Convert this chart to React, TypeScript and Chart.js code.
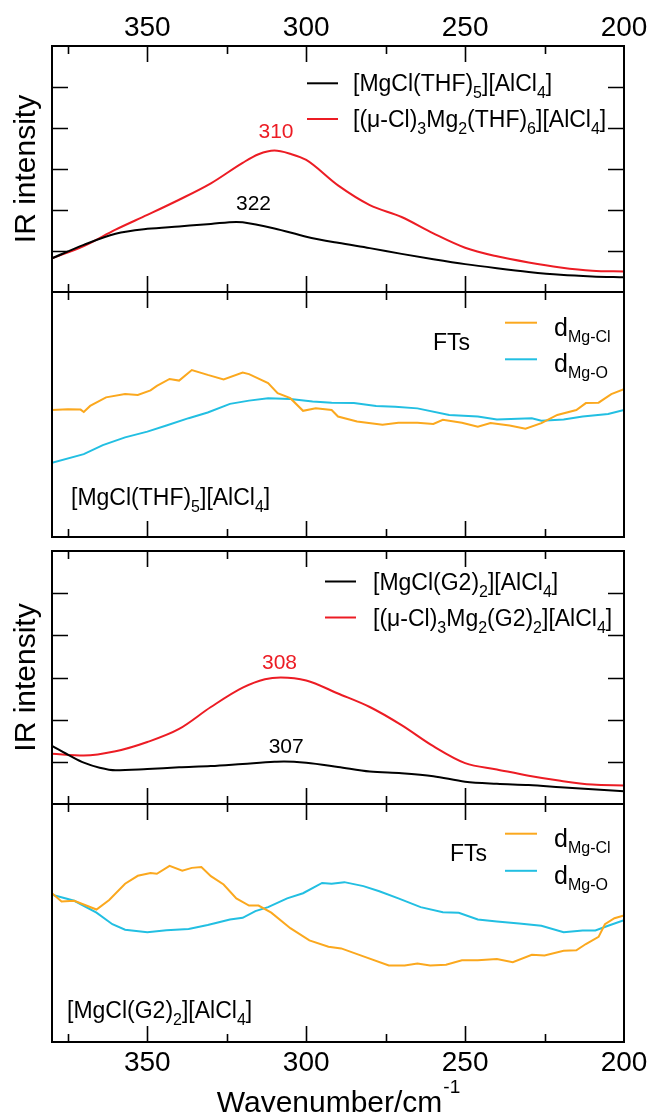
import React, { useEffect, useRef } from "react";
import { Chart, registerables } from "chart.js";
Chart.register(...registerables);

const FONT = "'Liberation Sans', Arial, Helvetica, sans-serif";

// ---------- axes ----------
const X_MIN = 200;
const X_MAX = 380;
const X_MAJOR = [350, 300, 250, 200];
const X_MINOR = [375, 325, 275, 225];
const Y_TICKS = [1, 2, 3, 4, 5];
const X_TITLE = "Wavenumber/cm";
const X_TITLE_SUP = "-1";
const Y_TITLE = "IR intensity";

// ---------- panel 1: THF IR ----------
const THF_BLACK_X = [380, 370, 360, 350, 340, 330, 322, 320, 310, 300, 290, 280, 270, 260, 250, 240, 230, 220, 210, 200];
const THF_BLACK_Y = [0.82, 1.15, 1.42, 1.54, 1.6, 1.66, 1.71, 1.7, 1.55, 1.35, 1.2, 1.07, 0.93, 0.8, 0.68, 0.58, 0.49, 0.42, 0.38, 0.36];
const THF_RED_X = [380, 370, 360, 350, 340, 330, 320, 315, 310, 305, 300, 290, 280, 270, 260, 250, 240, 230, 220, 210, 200];
const THF_RED_Y = [0.82, 1.12, 1.52, 1.88, 2.25, 2.65, 3.15, 3.36, 3.45, 3.37, 3.22, 2.6, 2.12, 1.83, 1.43, 1.08, 0.87, 0.72, 0.6, 0.52, 0.5];
const THF_PEAK_TEXT = ["322", "310"];
const THF_PEAK_X = [316.6, 309.5];
const THF_PEAK_Y = [2.0, 3.76];

// ---------- panel 2: THF FTs ----------
const THF_CL_X = [380, 375, 371, 370, 368, 363, 357, 353, 349, 347, 343, 340, 336, 331, 326, 320, 318, 312, 309, 305, 301, 297, 292, 290, 284, 276, 271, 265, 260, 257, 251, 246, 242, 236, 231, 226, 221, 215, 212, 208, 204, 200];
const THF_CL_Y = [3.11, 3.13, 3.12, 3.06, 3.21, 3.42, 3.5, 3.48, 3.59, 3.7, 3.87, 3.83, 4.09, 3.97, 3.86, 4.03, 3.99, 3.77, 3.52, 3.4, 3.09, 3.15, 3.11, 2.95, 2.83, 2.75, 2.8, 2.8, 2.77, 2.87, 2.8, 2.7, 2.79, 2.73, 2.65, 2.79, 2.99, 3.11, 3.28, 3.29, 3.5, 3.62];
const THF_O_X = [380, 370, 364, 357, 350, 344, 337, 331, 324, 318, 312, 305, 298, 292, 285, 278, 272, 265, 255, 246, 240, 229, 226, 219, 213, 205, 200];
const THF_O_Y = [1.82, 2.03, 2.25, 2.44, 2.58, 2.73, 2.91, 3.05, 3.26, 3.34, 3.4, 3.38, 3.32, 3.29, 3.28, 3.21, 3.19, 3.15, 2.99, 2.95, 2.88, 2.91, 2.85, 2.88, 2.95, 3.01, 3.11];

// ---------- panel 3: G2 IR ----------
const G2_BLACK_X = [380, 374, 370, 365, 360, 350, 340, 330, 320, 310, 307, 300, 290, 280, 270, 260, 250, 240, 230, 220, 210, 200];
const G2_BLACK_Y = [1.38, 1.13, 0.98, 0.86, 0.8, 0.83, 0.87, 0.9, 0.95, 1.0, 1.01, 0.98, 0.88, 0.77, 0.73, 0.66, 0.53, 0.48, 0.45, 0.4, 0.35, 0.3];
const G2_RED_X = [380, 370, 360, 350, 340, 330, 320, 313, 308, 300, 290, 280, 270, 260, 250, 240, 230, 220, 210, 200];
const G2_RED_Y = [1.19, 1.15, 1.25, 1.47, 1.78, 2.3, 2.76, 2.96, 3.0, 2.93, 2.62, 2.3, 1.87, 1.37, 0.97, 0.82, 0.67, 0.55, 0.46, 0.44];
const G2_PEAK_TEXT = ["307", "308"];
const G2_PEAK_X = [306.3, 308.4];
const G2_PEAK_Y = [1.2, 3.19];

// ---------- panel 4: G2 FTs ----------
const G2_CL_X = [380, 377, 373, 366, 362, 357, 353, 349, 347, 343, 339, 336, 333, 330, 326, 322, 318, 315, 311, 305, 299, 293, 289, 282, 274, 269, 265, 261, 256, 251, 246, 240, 235, 229, 225, 219, 215, 212, 208, 206, 203, 200];
const G2_CL_Y = [3.75, 3.54, 3.56, 3.34, 3.58, 3.99, 4.19, 4.26, 4.24, 4.44, 4.32, 4.39, 4.41, 4.18, 3.97, 3.62, 3.44, 3.44, 3.26, 2.87, 2.56, 2.4, 2.36, 2.16, 1.93, 1.93, 1.98, 1.93, 1.95, 2.06, 2.06, 2.09, 2.01, 2.2, 2.18, 2.3, 2.31, 2.47, 2.65, 2.97, 3.12, 3.19];
const G2_O_X = [380, 373, 366, 361, 357, 350, 344, 337, 331, 324, 320, 316, 312, 306, 301, 295, 292, 288, 282, 277, 271, 264, 257, 252, 246, 240, 233, 226, 219, 213, 209, 205, 200];
const G2_O_Y = [3.71, 3.56, 3.26, 2.97, 2.83, 2.77, 2.82, 2.85, 2.95, 3.09, 3.13, 3.3, 3.4, 3.62, 3.75, 4.01, 3.99, 4.03, 3.93, 3.8, 3.62, 3.4, 3.27, 3.26, 3.09, 3.04, 2.99, 2.93, 2.77, 2.81, 2.81, 2.93, 3.07];

// ---------- names (rich text: 0 normal, 1 subscript) ----------
type Part = [string, number];
const NAME_THF_MONO: Part[] = [["[MgCl(THF)", 0], ["5", 1], ["][AlCl", 0], ["4", 1], ["]", 0]];
const NAME_THF_DI: Part[] = [["[(\u03bc-Cl)", 0], ["3", 1], ["Mg", 0], ["2", 1], ["(THF)", 0], ["6", 1], ["][AlCl", 0], ["4", 1], ["]", 0]];
const NAME_G2_MONO: Part[] = [["[MgCl(G2)", 0], ["2", 1], ["][AlCl", 0], ["4", 1], ["]", 0]];
const NAME_G2_DI: Part[] = [["[(\u03bc-Cl)", 0], ["3", 1], ["Mg", 0], ["2", 1], ["(G2)", 0], ["2", 1], ["][AlCl", 0], ["4", 1], ["]", 0]];
const FT_TITLE = "FTs";
const FT_CL: Part[] = [["d", 0], ["Mg-Cl", 1]];
const FT_O: Part[] = [["d", 0], ["Mg-O", 1]];

const BLACK = "#000000";
const RED = "#ec1c24";
const ORANGE = "#fba81e";
const CYAN = "#22bfe2";

function pts(xs: number[], ys: number[]) {
  return xs.map((x, i) => ({ x, y: ys[i] }));
}

function drawRich(ctx: CanvasRenderingContext2D, parts: Part[], x: number, y: number, size: number, subSize: number, subDy: number, color: string) {
  let cx = x;
  ctx.fillStyle = color;
  ctx.textAlign = "left";
  ctx.textBaseline = "alphabetic";
  for (const [t, k] of parts) {
    const s = k === 0 ? size : subSize;
    ctx.font = `${s}px ${FONT}`;
    ctx.fillText(t, cx, y + (k === 1 ? subDy : 0));
    cx += ctx.measureText(t).width;
  }
}

type PanelCfg = {
  top: number;
  height: number;
  padTop: number;
  padBottom: number;
  xAxis: "top" | "bottom" | null;
  yTitle: boolean;
  yTicks: boolean;
  datasets: any[];
  extras: (ctx: CanvasRenderingContext2D, chart: any) => void;
};

const W = 651;

function irLegend(ctx: CanvasRenderingContext2D, a: any, names: Part[][], lx0: number, lx1: number, tx: number, rows: number[]) {
  const colors = [BLACK, RED];
  names.forEach((n, i) => {
    const y = a.top + rows[i];
    ctx.strokeStyle = colors[i];
    ctx.lineWidth = 2;
    ctx.beginPath();
    ctx.moveTo(lx0, y);
    ctx.lineTo(lx1, y);
    ctx.stroke();
    drawRich(ctx, n, tx, y + 8, 23, 16, 7, BLACK);
  });
}

function ftLegend(ctx: CanvasRenderingContext2D, a: any, ftsX: number, ftsY: number, rows: number[]) {
  ctx.fillStyle = BLACK;
  ctx.font = `23px ${FONT}`;
  ctx.textAlign = "left";
  ctx.textBaseline = "alphabetic";
  ctx.fillText(FT_TITLE, ftsX, a.top + ftsY);
  const items: [string, Part[]][] = [[ORANGE, FT_CL], [CYAN, FT_O]];
  items.forEach(([c, parts], i) => {
    const y = a.top + rows[i];
    ctx.strokeStyle = c;
    ctx.lineWidth = 2;
    ctx.beginPath();
    ctx.moveTo(505, y);
    ctx.lineTo(537, y);
    ctx.stroke();
    drawRich(ctx, parts, 554, y + 13, 25, 16, 6, BLACK);
  });
}

function peakLabels(ctx: CanvasRenderingContext2D, chart: any, texts: string[], xs: number[], ys: number[], colors: string[]) {
  const xs_ = chart.scales.x;
  const ys_ = chart.scales.y;
  ctx.font = `21px ${FONT}`;
  ctx.textAlign = "center";
  ctx.textBaseline = "alphabetic";
  texts.forEach((t, i) => {
    ctx.fillStyle = colors[i];
    ctx.fillText(t, xs_.getPixelForValue(xs[i]), ys_.getPixelForValue(ys[i]));
  });
}

const irLine = (data: any, color: string) => ({
  data,
  borderColor: color,
  borderWidth: 2,
  pointRadius: 0,
  cubicInterpolationMode: "monotone",
  fill: false,
});
const ftLine = (data: any, color: string) => ({
  data,
  borderColor: color,
  borderWidth: 2,
  pointRadius: 0,
  tension: 0,
  fill: false,
});

const PANELS: PanelCfg[] = [
  {
    top: 0,
    height: 300,
    padTop: 0,
    padBottom: 8,
    xAxis: "top",
    yTitle: true,
    yTicks: true,
    datasets: [irLine(pts(THF_BLACK_X, THF_BLACK_Y), BLACK), irLine(pts(THF_RED_X, THF_RED_Y), RED)],
    extras: (ctx, chart) => {
      const a = chart.chartArea;
      irLegend(ctx, a, [NAME_THF_MONO, NAME_THF_DI], 307, 338, 353, [37.3, 73]);
      peakLabels(ctx, chart, THF_PEAK_TEXT, THF_PEAK_X, THF_PEAK_Y, [BLACK, RED]);
    },
  },
  {
    top: 284,
    height: 261,
    padTop: 8,
    padBottom: 8,
    xAxis: null,
    yTitle: false,
    yTicks: false,
    datasets: [ftLine(pts(THF_CL_X, THF_CL_Y), ORANGE), ftLine(pts(THF_O_X, THF_O_Y), CYAN)],
    extras: (ctx, chart) => {
      const a = chart.chartArea;
      ftLegend(ctx, a, 433, 58, [30.7, 67.3]);
      drawRich(ctx, NAME_THF_MONO, 71, a.top + 213, 23, 16, 7, BLACK);
    },
  },
  {
    top: 543,
    height: 269,
    padTop: 8,
    padBottom: 8,
    xAxis: null,
    yTitle: true,
    yTicks: true,
    datasets: [irLine(pts(G2_BLACK_X, G2_BLACK_Y), BLACK), irLine(pts(G2_RED_X, G2_RED_Y), RED)],
    extras: (ctx, chart) => {
      const a = chart.chartArea;
      irLegend(ctx, a, [NAME_G2_MONO, NAME_G2_DI], 325, 356, 373, [30.5, 66.5]);
      peakLabels(ctx, chart, G2_PEAK_TEXT, G2_PEAK_X, G2_PEAK_Y, [BLACK, RED]);
    },
  },
  {
    top: 796,
    height: 321,
    padTop: 8,
    padBottom: 0,
    xAxis: "bottom",
    yTitle: false,
    yTicks: false,
    datasets: [ftLine(pts(G2_CL_X, G2_CL_Y), ORANGE), ftLine(pts(G2_O_X, G2_O_Y), CYAN)],
    extras: (ctx, chart) => {
      const a = chart.chartArea;
      ftLegend(ctx, a, 450, 57, [29.7, 66.8]);
      drawRich(ctx, NAME_G2_MONO, 67, a.top + 214, 23, 16, 7, BLACK);
      // x-axis title with superscript
      ctx.font = `30px ${FONT}`;
      const w1 = ctx.measureText(X_TITLE).width;
      ctx.font = `19px ${FONT}`;
      const w2 = ctx.measureText(X_TITLE_SUP).width;
      const cx = (a.left + a.right) / 2;
      const x0 = cx - (w1 + w2) / 2;
      const base = a.bottom + 70;
      ctx.fillStyle = BLACK;
      ctx.textAlign = "left";
      ctx.textBaseline = "alphabetic";
      ctx.font = `30px ${FONT}`;
      ctx.fillText(X_TITLE, x0, base);
      ctx.font = `19px ${FONT}`;
      ctx.fillText(X_TITLE_SUP, x0 + w1 + 1, base - 19);
    },
  },
];

const framePlugin = (cfg: PanelCfg) => ({
  id: "frame",
  afterDraw(chart: any) {
    const ctx: CanvasRenderingContext2D = chart.ctx;
    const a = chart.chartArea;
    const xs = chart.scales.x;
    const ys = chart.scales.y;
    ctx.save();
    ctx.strokeStyle = BLACK;
    ctx.lineCap = "butt";
    ctx.lineWidth = 1.6;
    const tick = (vals: number[], len: number) => {
      vals.forEach((v) => {
        if (v <= X_MIN || v >= X_MAX) return;
        const px = Math.round(xs.getPixelForValue(v)) + 0.5;
        ctx.beginPath();
        ctx.moveTo(px, a.top);
        ctx.lineTo(px, a.top + len);
        ctx.moveTo(px, a.bottom);
        ctx.lineTo(px, a.bottom - len);
        ctx.stroke();
      });
    };
    tick(X_MAJOR, 16);
    tick(X_MINOR, 8);
    if (cfg.yTicks) {
      Y_TICKS.forEach((v) => {
        const py = Math.round(ys.getPixelForValue(v)) + 0.5;
        ctx.beginPath();
        ctx.moveTo(a.left, py);
        ctx.lineTo(a.left + 16, py);
        ctx.moveTo(a.right, py);
        ctx.lineTo(a.right - 16, py);
        ctx.stroke();
      });
    }
    ctx.lineWidth = 2;
    ctx.strokeRect(a.left, a.top, a.right - a.left, a.bottom - a.top);
    cfg.extras(ctx, chart);
    ctx.restore();
  },
});

function makeChart(canvas: HTMLCanvasElement, cfg: PanelCfg) {
  const xHeight = cfg.xAxis === "top" ? 46 : cfg.xAxis === "bottom" ? 75 : 0;
  return new Chart(canvas, {
    type: "line",
    data: { datasets: cfg.datasets },
    options: {
      responsive: false,
      animation: false,
      devicePixelRatio: 1,
      layout: { padding: { left: 0, right: 27, top: cfg.padTop, bottom: cfg.padBottom } },
      plugins: { legend: { display: false }, tooltip: { enabled: false } },
      scales: {
        x: {
          type: "linear",
          min: X_MIN,
          max: X_MAX,
          reverse: true,
          display: !!cfg.xAxis,
          position: cfg.xAxis || "bottom",
          grid: { display: false, drawTicks: false },
          border: { display: false },
          afterBuildTicks: (s: any) => {
            s.ticks = X_MAJOR.map((v) => ({ value: v }));
          },
          ticks: {
            color: BLACK,
            font: { family: FONT, size: 28, lineHeight: 1 },
            padding: cfg.xAxis === "top" ? 4 : 7,
            maxRotation: 0,
            autoSkip: false,
          },
          afterFit: (s: any) => {
            s.height = xHeight;
            s.paddingLeft = 0;
            s.paddingRight = 0;
          },
        },
        y: {
          type: "linear",
          min: 0,
          max: 6,
          display: true,
          grid: { display: false, drawTicks: false },
          border: { display: false },
          ticks: { display: false },
          title: {
            display: cfg.yTitle,
            text: Y_TITLE,
            color: BLACK,
            font: { family: FONT, size: 30, lineHeight: 1 },
            padding: { top: 12, bottom: 0 },
          },
          afterFit: (s: any) => {
            s.width = 52;
            s.paddingTop = 0;
            s.paddingBottom = 0;
          },
        },
      },
    } as any,
    plugins: [framePlugin(cfg)],
  });
}

export default function App() {
  const refs = useRef<(HTMLCanvasElement | null)[]>([]);
  useEffect(() => {
    const charts = PANELS.map((cfg, i) => makeChart(refs.current[i] as HTMLCanvasElement, cfg));
    return () => charts.forEach((c) => c.destroy());
  }, []);
  return (
    <div style={{ position: "absolute", left: 0, top: 0, width: W, height: 1117, background: "#fff" }}>
      {PANELS.map((cfg, i) => (
        <canvas
          key={i}
          ref={(el) => {
            refs.current[i] = el;
          }}
          width={W}
          height={cfg.height}
          style={{ position: "absolute", left: 0, top: cfg.top, width: W, height: cfg.height }}
        />
      ))}
    </div>
  );
}
